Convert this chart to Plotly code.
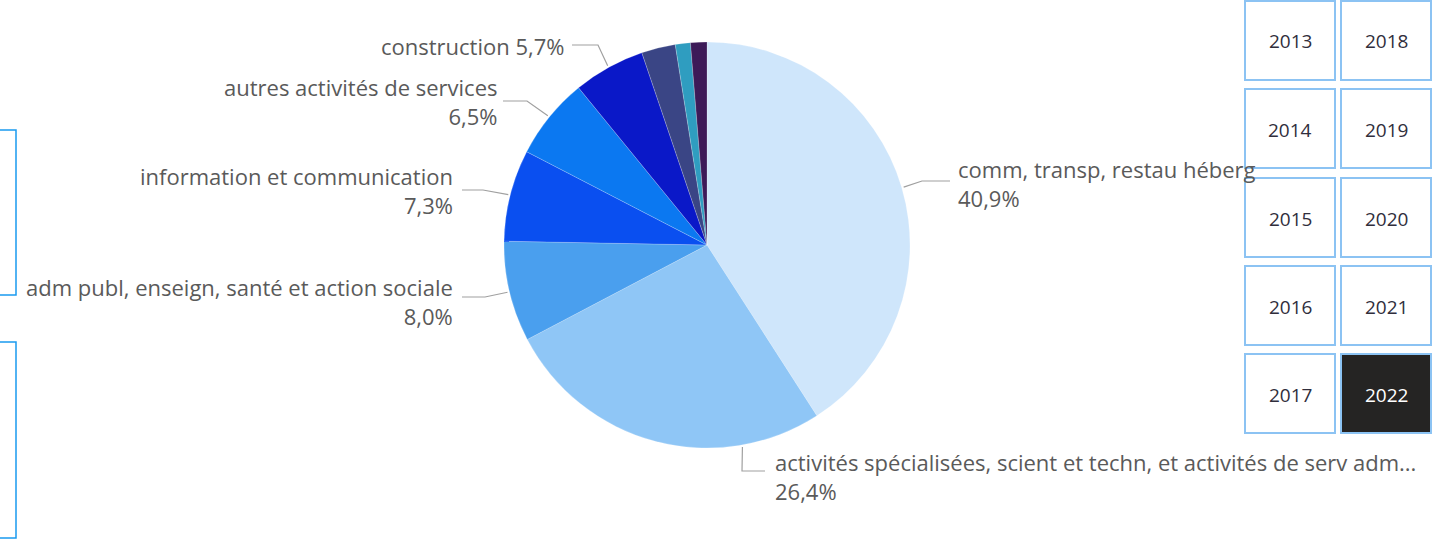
import math
import plotly.graph_objects as go

# ---- data ----
categories = [
    "comm, transp, restau héberg",
    "activités spécialisées, scient et techn, et activités de serv adm...",
    "adm publ, enseign, santé et action sociale",
    "information et communication",
    "autres activités de services",
    "construction",
    "industrie",
    "activités financières et d'assurance",
    "activités immobilières",
]
values = [40.9, 26.4, 8.0, 7.3, 6.5, 5.7, 2.7, 1.2, 1.3]
pct_labels = ["40,9%", "26,4%", "8,0%", "7,3%", "6,5%", "5,7%", "2,7%", "1,2%", "1,3%"]
years_col1 = ["2013", "2014", "2015", "2016", "2017"]
years_col2 = ["2018", "2019", "2020", "2021", "2022"]
selected_year = "2022"

colors = ["#cfe6fb", "#8fc6f6", "#4a9fee", "#0a4ff0", "#0b78f1",
          "#0a18c8", "#3a4585", "#2f9dc0", "#3d1a58"]

W, H = 1435, 541
CX, CY, R = 707, 245, 203

def px(x):
    return x / W

def py(y):
    return 1 - y / H

fig = go.Figure()
fig.add_trace(go.Pie(
    labels=categories, values=values, sort=False, direction="clockwise",
    rotation=0, textinfo="none", hoverinfo="skip",
    marker=dict(colors=colors, line=dict(color="rgba(255,255,255,0.4)", width=0.5)),
    domain=dict(x=[px(CX - R), px(CX + R)], y=[py(CY + R), py(CY - R)]),
    showlegend=False,
))

# label layout: (slice index, anchor fraction within slice, elbow px, line end px, text x, text y, align, two-line)
label_layout = [
    (0, 0.5, (922, 181), (950, 181), 956, 183, "left", True),
    (1, 0.24, (742, 471), (765, 471), 773, 476, "left", True),
    (2, 0.5, (485, 297), (462, 297), 455, 301, "right", True),
    (3, 0.5, (483, 190), (462, 190), 455, 190, "right", True),
    (4, 0.5, (527, 101), (503, 101), 499, 102, "right", True),
    (5, 0.5, (598, 45), (572, 45), 567, 46, "right", False),
]

total = sum(values)
cum = [sum(values[:i]) for i in range(len(values))]
for idx, frac, elbow, lend, tx, ty, align, two in label_layout:
    ang = 2 * math.pi * (cum[idx] + frac * values[idx]) / total
    ax = CX + (R + 2) * math.sin(ang)
    ay = CY - (R + 2) * math.cos(ang)
    fig.add_shape(type="path", xref="paper", yref="paper",
                  path=f"M {px(ax)},{py(ay)} L {px(elbow[0])},{py(elbow[1])} L {px(lend[0])},{py(lend[1])}",
                  line=dict(color="#a0a0a0", width=1.2))
    if two:
        text = f"{categories[idx]}<br>{pct_labels[idx]}"
    else:
        text = f"{categories[idx]} {pct_labels[idx]}"
    fig.add_annotation(x=px(tx), y=py(ty), xref="paper", yref="paper", text=text,
                       showarrow=False, xanchor=align, yanchor="middle", align=align,
                       font=dict(family="Open Sans", size=22, color="#5a5a5a"))

# year slicer buttons
col_x = [(1245, 1335), (1341, 1431)]
row_y = [(1, 80), (89, 168), (178, 257), (266, 345), (354, 433)]
for c, col in enumerate([years_col1, years_col2]):
    for r, yr in enumerate(col):
        x0, x1 = col_x[c]
        y0, y1 = row_y[r]
        sel = yr == selected_year
        fig.add_shape(type="rect", xref="paper", yref="paper",
                      x0=px(x0), x1=px(x1), y0=py(y1), y1=py(y0),
                      line=dict(color="#8cc3f3", width=2),
                      fillcolor="#252423" if sel else "#ffffff")
        fig.add_annotation(x=px((x0 + x1) / 2), y=py((y0 + y1) / 2 + 1), xref="paper", yref="paper",
                           text=yr, showarrow=False, xanchor="center", yanchor="middle",
                           font=dict(family="Open Sans", size=19, color="#ffffff" if sel else "#302e3c"))

# partial boxes on the left edge
for (y0, y1) in [(130, 295), (342, 538)]:
    fig.add_shape(type="rect", xref="paper", yref="paper",
                  x0=px(-20), x1=px(16), y0=py(y1), y1=py(y0),
                  line=dict(color="#1a9bf0", width=1.5), fillcolor="rgba(0,0,0,0)")

fig.update_layout(width=W, height=H, margin=dict(l=0, r=0, t=0, b=0),
                  paper_bgcolor="#ffffff", plot_bgcolor="#ffffff")
fig.write_html("out.html", config={"displayModeBar": False})

# remove the default page margin so the figure sits at the window origin
with open("out.html", "r", encoding="utf-8") as f:
    html = f.read()
html = html.replace("<head>", "<head><style>html,body{margin:0;padding:0;overflow:hidden;}</style>", 1)
with open("out.html", "w", encoding="utf-8") as f:
    f.write(html)
